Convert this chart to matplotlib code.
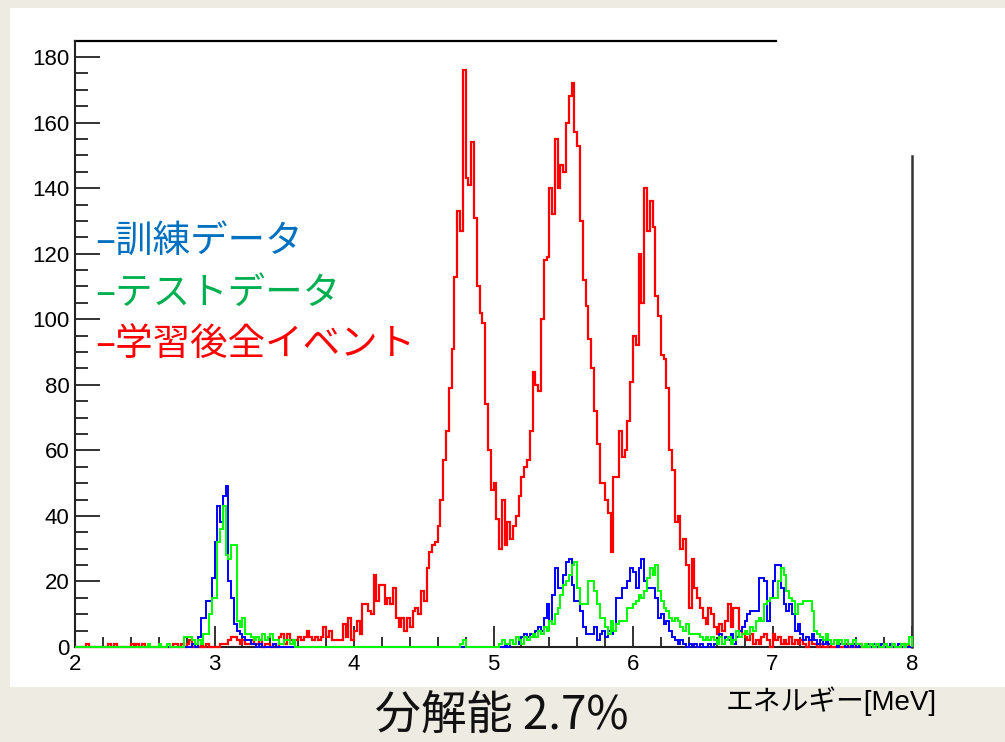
import numpy as np
import matplotlib.pyplot as plt
from matplotlib.patches import Rectangle
from matplotlib.ticker import MultipleLocator

# energy histogram, 300 bins between 2 and 8 MeV
e_min, e_max, n_bins = 2.0, 8.0, 300

# all events after training (red)
all_events = [
    0, 0, 0, 0, 1, 0, 0, 0, 0, 0, 0, 0, 1, 0, 1, 0, 0, 0, 0, 0, 1, 0, 1, 0, 1,
    0, 0, 0, 0, 0, 0, 0, 0, 0, 0, 1, 1, 0, 1, 0, 1, 2, 0, 0, 0, 1, 0, 1, 0, 0,
    0, 0, 1, 1, 1, 2, 3, 3, 2, 1, 2, 1, 1, 2, 1, 1, 2, 0, 1, 1, 0, 1, 0, 3, 4,
    1, 4, 2, 2, 2, 3, 2, 3, 5, 3, 2, 3, 2, 3, 6, 3, 5, 2, 2, 2, 2, 7, 3, 9, 2,
    5, 8, 4, 13, 13, 11, 10, 22, 14, 19, 19, 13, 15, 13, 18, 9, 6, 9, 5, 9, 6, 11, 12, 10, 17,
    14, 24, 29, 31, 32, 37, 45, 57, 66, 79, 91, 113, 133, 127, 176, 143, 141, 154, 131, 110, 102, 99, 74, 60, 48,
    50, 39, 30, 45, 31, 38, 33, 37, 40, 46, 52, 55, 57, 66, 84, 80, 78, 100, 118, 119, 140, 132, 155, 140, 147,
    145, 160, 168, 172, 157, 153, 130, 112, 104, 94, 85, 72, 62, 50, 50, 45, 41, 29, 52, 52, 66, 58, 60, 69, 81,
    95, 92, 120, 105, 140, 127, 136, 128, 107, 101, 89, 88, 79, 60, 54, 38, 40, 30, 33, 25, 12, 27, 18, 15, 12,
    9, 7, 12, 10, 6, 4, 7, 5, 8, 13, 6, 12, 12, 5, 4, 3, 2, 4, 1, 2, 1, 3, 4, 2, 0,
    4, 2, 3, 1, 2, 1, 3, 1, 2, 1, 2, 1, 0, 2, 1, 1, 0, 1, 0, 0, 1, 0, 0, 1, 0,
    0, 1, 0, 1, 0, 0, 1, 0, 1, 0, 0, 0, 1, 0, 0, 1, 0, 0, 1, 0, 0, 1, 0, 1, 0,
]

# training data (blue)
train = [
    0, 0, 0, 0, 0, 0, 0, 0, 0, 0, 0, 0, 0, 0, 0, 0, 0, 0, 0, 0, 0, 0, 0, 0, 0,
    0, 0, 0, 0, 0, 0, 0, 0, 0, 0, 0, 0, 0, 0, 0, 0, 0, 1, 0, 3, 9, 9, 14, 14, 21,
    32, 43, 38, 46, 49, 20, 15, 7, 5, 4, 3, 2, 2, 1, 1, 0, 1, 0, 0, 0, 0, 1, 0, 0, 0,
    0, 0, 0, 0, 0, 0, 0, 0, 0, 0, 0, 0, 0, 0, 0, 0, 0, 0, 0, 0, 0, 0, 0, 0, 0,
    0, 0, 0, 0, 0, 0, 0, 0, 0, 0, 0, 0, 0, 0, 0, 0, 0, 0, 0, 0, 0, 0, 0, 0, 0,
    0, 0, 0, 0, 0, 0, 0, 0, 0, 0, 0, 0, 0, 0, 0, 0, 0, 0, 0, 0, 0, 0, 0, 0, 0,
    0, 0, 0, 0, 1, 0, 2, 1, 3, 1, 3, 4, 3, 4, 3, 5, 6, 5, 9, 13, 8, 16, 24, 18, 18,
    22, 26, 27, 19, 14, 14, 11, 6, 4, 4, 4, 6, 2, 4, 5, 3, 5, 4, 5, 15, 15, 18, 18, 20, 24,
    23, 18, 24, 27, 20, 18, 18, 18, 15, 9, 10, 7, 8, 5, 3, 2, 1, 2, 1, 0, 1, 0, 1, 0, 1,
    0, 0, 1, 0, 1, 2, 4, 1, 3, 2, 4, 1, 3, 5, 6, 8, 10, 11, 11, 11, 21, 21, 20, 8, 15,
    20, 25, 25, 18, 13, 11, 13, 10, 5, 7, 4, 2, 3, 2, 4, 2, 1, 2, 1, 2, 1, 1, 2, 0, 1,
    1, 0, 1, 0, 1, 0, 1, 0, 0, 1, 0, 1, 0, 0, 1, 0, 0, 1, 0, 0, 1, 0, 0, 0, 0,
]

# test data (green)
test = [
    0, 0, 0, 0, 0, 0, 0, 0, 0, 0, 0, 0, 0, 0, 0, 0, 0, 0, 0, 0, 0, 0, 0, 0, 0,
    0, 1, 0, 0, 0, 1, 0, 0, 1, 0, 0, 0, 0, 0, 3, 3, 3, 2, 1, 2, 1, 4, 4, 10, 15,
    15, 32, 36, 43, 28, 27, 31, 31, 8, 6, 9, 4, 4, 3, 2, 3, 2, 4, 2, 3, 4, 2, 2, 1, 1,
    2, 2, 1, 2, 0, 0, 0, 0, 0, 0, 0, 0, 0, 0, 0, 0, 0, 0, 0, 0, 0, 0, 0, 0, 0,
    0, 0, 0, 0, 0, 0, 0, 0, 0, 0, 0, 0, 0, 0, 0, 0, 0, 0, 0, 0, 0, 0, 0, 0, 0,
    0, 0, 0, 0, 0, 0, 0, 0, 0, 0, 0, 0, 0, 1, 2, 0, 0, 0, 0, 0, 0, 0, 0, 0, 0,
    0, 0, 1, 2, 1, 1, 2, 1, 3, 2, 1, 3, 2, 3, 4, 3, 5, 4, 6, 5, 8, 7, 10, 12, 16,
    19, 20, 22, 25, 26, 18, 13, 13, 13, 20, 20, 17, 13, 9, 9, 6, 4, 8, 5, 7, 8, 8, 8, 12, 12,
    13, 14, 16, 15, 17, 21, 24, 22, 25, 17, 14, 12, 11, 9, 8, 9, 8, 6, 5, 7, 4, 4, 4, 4, 3,
    2, 3, 2, 3, 2, 1, 3, 1, 2, 3, 1, 2, 5, 3, 4, 5, 4, 6, 5, 8, 9, 8, 13, 14, 15,
    15, 15, 20, 24, 22, 17, 15, 14, 10, 13, 13, 14, 14, 14, 11, 5, 4, 3, 2, 4, 2, 1, 2, 1, 2,
    1, 2, 1, 1, 2, 1, 1, 0, 1, 0, 1, 0, 1, 0, 0, 1, 0, 0, 1, 0, 0, 1, 0, 1, 3,
]

legend_labels = ["–訓練データ", "–テストデータ", "–学習後全イベント"]
legend_colors = ["#0070c0", "#00b050", "#ff0000"]
title_text = "分解能 2.7%"
xlabel_text = "エネルギー[MeV]"

W, H = 1005, 742


def fx(px):
    return px / W


def fy(py):
    return 1 - py / H


fig = plt.figure(figsize=(W / 100, H / 100), dpi=100, facecolor="#eeebe3")
# white slide panel (behind the axes)
fig.patches.append(Rectangle((fx(10), fy(687)), fx(1005) - fx(10), fy(8) - fy(687),
                             transform=fig.transFigure, facecolor="white",
                             edgecolor="none", zorder=-10))

ax = fig.add_axes([fx(75), fy(647), fx(912) - fx(75), fy(41) - fy(647)])
ax.set_zorder(1)
ax.set_facecolor("none")

# histograms drawn over the frame so the zero level shows in green
edges = np.linspace(e_min, e_max, n_bins + 1)
ax.stairs(all_events, edges, color="#ff0000", lw=1.6, baseline=0, clip_on=False, zorder=3)
ax.stairs(train, edges, color="#0000ff", lw=1.4, baseline=0, clip_on=False, zorder=3.1)
ax.stairs(test, edges, color="#00ff00", lw=1.4, baseline=0, clip_on=False, zorder=3.2)

ax.set_xlim(e_min, e_max)
ax.set_ylim(0, 184.9)

for s in ["top", "right"]:
    ax.spines[s].set_visible(False)
for s in ["left", "bottom"]:
    ax.spines[s].set_linewidth(1.5)
    ax.spines[s].set_color("#222222")
# partial frame as on the slide
ax.plot([0, 0.8375], [1, 1], transform=ax.transAxes, color="black", lw=1.6, clip_on=False)
ax.plot([1, 1], [0, 0.81], transform=ax.transAxes, color="#333333", lw=1.8, clip_on=False)

ax.xaxis.set_major_locator(MultipleLocator(1))
ax.xaxis.set_minor_locator(MultipleLocator(0.2))
ax.yaxis.set_major_locator(MultipleLocator(20))
ax.yaxis.set_minor_locator(MultipleLocator(5))
ax.tick_params(which="both", direction="in", top=False, right=False, width=1.3,
               colors="#222222", labelcolor="black", labelsize=16)
ax.tick_params(axis="x", which="major", length=15, pad=5)
ax.tick_params(axis="x", which="minor", length=7)
ax.tick_params(axis="y", which="major", length=18, pad=4)
ax.tick_params(axis="y", which="minor", length=9.5)
for lab in ax.get_xticklabels() + ax.get_yticklabels():
    lab.set_family("Liberation Sans")

# coloured legend text
for i, (txt, col) in enumerate(zip(legend_labels, legend_colors)):
    fig.text(fx(95), fy(241 + 52 * i), txt, color=col, fontsize=27,
             family=["Noto Sans CJK JP", "DejaVu Sans"], ha="left", va="center")

fig.text(fx(937), fy(701), xlabel_text, fontsize=20, color="black",
         family=["Liberation Sans", "Noto Sans CJK JP"], ha="right", va="center")
fig.text(fx(502), fy(717), title_text, fontsize=33, color="#111111",
         family=["Noto Sans CJK JP", "DejaVu Sans"], ha="center", va="center")

fig.savefig("out.png", dpi=100, facecolor=fig.get_facecolor())
